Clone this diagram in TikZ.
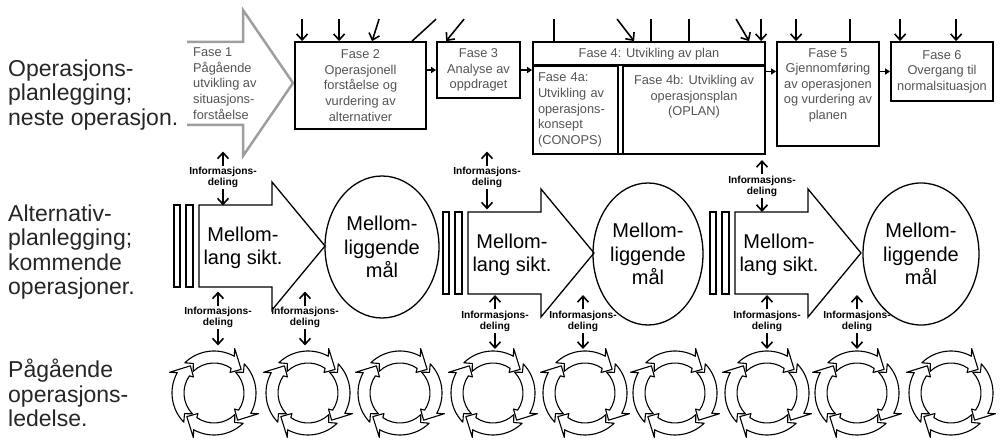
\documentclass[tikz,border=0pt]{standalone}
\usepackage{fontspec}
\setmainfont{Liberation Sans}
\usetikzlibrary{positioning, shapes.geometric, arrows.meta}
\definecolor{fasegray}{gray}{0.33}
\definecolor{fase1gray}{gray}{0.62}

\tikzset{
  rowlabel/.style={align=left, anchor=west, inner sep=0pt, text=black!85, font=\fontsize{23}{24.5}\selectfont},
  fasebox/.style={draw, line width=1.8pt, inner sep=0pt},
  fasetext/.style={text=fasegray, align=center, inner sep=0pt, font=\fontsize{12.8}{15.6}\selectfont},
  bigtext/.style={align=center, inner sep=0pt, font=\fontsize{20}{23.5}\selectfont},
  goal/.style={ellipse, draw, line width=1.3pt, bigtext},
  hollow/.style={draw, line width=1.3pt},
  infotext/.style={align=center, inner sep=1.5pt, font=\bfseries\fontsize{10.2}{11}\selectfont},
  barb/.style={line width=1.6pt, -{Straight Barb[length=6pt,width=11pt,line width=1.6pt]}},
  plainline/.style={line width=1.5pt},
  steparrow/.style={line width=1.2pt, -{Triangle[length=5pt,width=6pt]}},
  cyclearrow/.style={draw, line width=1.1pt, line join=round},
}

\begin{document}
\begin{tikzpicture}[x=1pt, y=-1pt]
\useasboundingbox (0,0) rectangle (1002,443);

% radene
\node[rowlabel] (opplan) at (8,95) {Operasjons-\\planlegging;\\neste operasjon.};
\node[rowlabel] (altplan) at (8,252) {Alternativ-\\planlegging;\\kommende\\operasjoner.};
\node[rowlabel] (ledelse) at (8,393) {Pågående\\operasjons-\\ledelse.};

% fase 1
\draw[fase1gray, line width=2.5pt] (187,42) -- (243,42) -- (243,10) -- (293,83) -- (243,156) -- (243,125) -- (187,125);
\node[fasetext, align=left, anchor=west] (f1) at (193,83.5) {Fase 1\\Pågående\\utvikling av\\situasjons-\\forståelse};

% fase 2 - 6
\node[fasebox, fasetext, minimum width=131, minimum height=87] (f2) at (360.5,85.5) {Fase 2\\Operasjonell\\forståelse og\\vurdering av\\alternativer};
\node[fasebox, fasetext, minimum width=83, minimum height=56] (f3) at (478.5,70) {Fase 3\\Analyse av\\oppdraget};
\node[fasebox, minimum width=232, minimum height=112] (f4) at (649,98) {};
\node[fasetext] (f4head) at (649,54) {Fase 4: Utvikling av plan};
\node[fasebox, fasetext, align=left, text width=75, minimum width=85, minimum height=88] (f4a) at (575.5,110) {Fase 4a:\\Utvikling av\\operasjons-\\konsept\\(CONOPS)};
\node[fasebox, minimum width=142, minimum height=88] (f4b) at (694,110) {};
\node[fasetext, below=10pt of f4b.north] (f4btext) {Fase 4b: Utvikling av\\operasjonsplan\\(OPLAN)};
\draw[line width=1.8pt] (f4a.north west) -- (f4b.north east);
\node[fasebox, minimum width=102, minimum height=104] (f5) at (828,94) {};
\node[fasetext, below=7pt of f5.north] (f5text) {Fase 5\\Gjennomføring\\av operasjonen\\og vurdering av\\planen};
\node[fasebox, fasetext, minimum width=102, minimum height=59] (f6) at (942,71.5) {Fase 6\\Overgang til\\normalsituasjon};

\draw[steparrow] (f2.east |- f3.west) -- (f3.west);
\draw[steparrow] (f3.east) -- (f4.west |- f3.east);
\draw[steparrow] (f4.east |- f6.west) -- (f5.west |- f6.west);
\draw[steparrow] (f5.east |- f6.west) -- (f6.west);

% innspill ovenfra
\draw[barb] (f2.north west) ++(8,-22) -- ++(0,22);
\draw[barb] (f2.north west) ++(45,-22) -- ++(0,22);
\draw[barb] (f2.north west) ++(85,-22) -- ++(-7,22);
\draw[plainline] (f2.north west) ++(118,0) -- ++(24,-22);
\draw[barb] (f3.north west) ++(28,-22) -- ++(-18,22);
\draw[plainline] (f4.north west) ++(22,0) -- ++(0,-22);
\draw[barb] (f4.north west) ++(85,-22) -- ++(17,22);
\draw[plainline] (f4.north west) ++(119,0) -- ++(0,-22);
\draw[plainline] (f4.north west) ++(157,0) -- ++(0,-22);
\draw[barb] (f4.north west) ++(204,-22) -- ++(13,22);
\draw[barb] (f4.north west) ++(229,-22) -- ++(0,22);
\draw[barb] (f5.north west) ++(20,-22) -- ++(0,22);
\draw[plainline] (f5.north west) ++(74,0) -- ++(0,-22);
\draw[barb] (f6.north west) ++(10,-22) -- ++(0,22);
\draw[barb] (f6.north west) ++(66,-22) -- ++(0,22);

% mellomlang sikt og mellomliggende mål
\foreach \lx/\ty/\ex/\ew/\k in {199/205/382/114/1, 468/212/648/110/2, 735/212/921/116/3}{
  \draw[hollow] (\lx-25,\ty) rectangle (\lx-19,\ty+82);
  \draw[hollow] (\lx-13,\ty) rectangle (\lx-6,\ty+82);
  \draw[hollow] (\lx,\ty) -- (\lx+73,\ty) -- (\lx+73,\ty-23) -- (\lx+126,\ty+41) -- (\lx+73,\ty+105) -- (\lx+73,\ty+82) -- (\lx,\ty+82) -- cycle;
  \node[bigtext] (sikt\k) at (\lx+44,\ty+43) {Mellom-\\lang sikt.};
  \node[goal, minimum width=\ew, minimum height=142] (maal\k) at (\ex,\ty+42) {Mellom-\\liggende\\mål};
}

% informasjonsdeling
\foreach \x/\y/\d/\n in {223/177.5/16/u1, 487/177.5/20/u2, 762/186/14/u3, 218/317.5/16/l1, 305/317.5/16/l2, 495/321/16/l3, 583/321/16/l4, 767/321/16/l5, 857/321/16/l6}{
  \node[infotext] (info\n) at (\x,\y) {Informasjons-\\deling};
  \draw[barb] (info\n.north) -- ++(0,-14);
  \draw[barb] (info\n.south) -- ++(0,\d);
}

% pågående operasjonsledelse
\foreach \cx in {214,308,400,493,585,675,767,857,951}{
  \begin{scope}[shift={(\cx,393)}]
    \foreach \h in {148,58,-32,-122}{
      \pgfmathsetmacro\ta{\h+76}
      \draw[cyclearrow] (\ta:42pt) arc[start angle=\ta, end angle=\h+3, radius=42pt] -- (\h+7:49pt) -- (\h-17:36pt) -- (\h-6:26pt) -- (\h-3:30pt) arc[start angle=\h-3, end angle=\ta, radius=30pt] -- (\ta-9:36pt) -- cycle;
    }
  \end{scope}
}
\end{tikzpicture}
\end{document}
